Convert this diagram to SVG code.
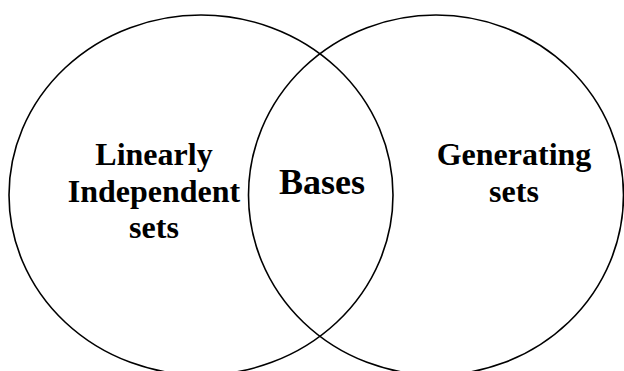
<svg xmlns="http://www.w3.org/2000/svg" width="624" height="371" viewBox="0 0 624 371">
<style>
.set{fill:none;stroke:#000;stroke-width:1.6}
.lbl{font-family:"Liberation Serif","Times New Roman",serif;font-weight:bold;font-size:32px;fill:#000;text-anchor:middle}
.big{font-size:36px}
</style>
<rect width="624" height="371" fill="#fff"/>
<g id="linearly-independent">
<ellipse class="set" cx="201" cy="195" rx="192" ry="180"/>
<text class="lbl" x="154" y="165">Linearly</text>
<text class="lbl" x="154" y="201.5">Independent</text>
<text class="lbl" x="154" y="238">sets</text>
</g>
<g id="generating">
<ellipse class="set" cx="436" cy="195" rx="187.5" ry="180"/>
<text class="lbl" x="514" y="165">Generating</text>
<text class="lbl" x="514" y="201.5">sets</text>
</g>
<g id="bases">
<text class="lbl big" x="322" y="194">Bases</text>
</g>
<g id="connectors"></g>
</svg>
